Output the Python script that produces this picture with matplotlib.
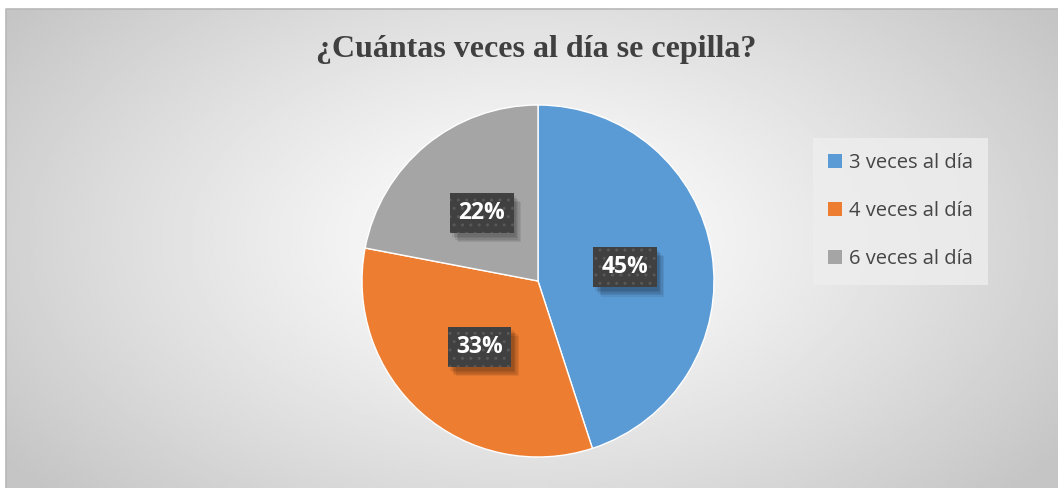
import numpy as np
import matplotlib.pyplot as plt
import matplotlib.patheffects as pe
from matplotlib.lines import Line2D
from matplotlib.patches import Patch

# Datos de la encuesta
categorias = ["3 veces al día", "4 veces al día", "6 veces al día"]
porcentajes = [45, 33, 22]
colores = ["#5B9BD5", "#ED7D31", "#A5A5A5"]
titulo = "¿Cuántas veces al día se cepilla?"

W, H = 1058, 488
fig = plt.figure(figsize=(W / 100, H / 100), dpi=100)
fig.patch.set_facecolor("white")

# Fondo con degradado radial
x0, y0 = 6, 9
bg = fig.add_axes([x0 / W, 0, 1 - x0 / W, 1 - y0 / H])
xs = np.linspace(x0, W, 400)
ys = np.linspace(y0, H, 200)
X, Y = np.meshgrid(xs, ys)
r = np.sqrt(((X - 530) / 560) ** 2 + ((Y - 240) / 330) ** 2)
val = (255 - 58 * np.clip(r / 1.15, 0, 1.0) ** 1.2) / 255
bg.imshow(val, cmap="gray", vmin=0, vmax=1, aspect="auto",
          extent=[0, 1, 0, 1], origin="upper")
bg.set_axis_off()

# Borde superior e izquierdo del área del gráfico
fig.add_artist(Line2D([x0 / W, x0 / W, 1], [0, 1 - y0 / H, 1 - y0 / H],
                      transform=fig.transFigure, color="#b8b8b8",
                      linewidth=1.2))

# Gráfico de pastel
cx, cy, rad = 538, H - 281, 176
ax = fig.add_axes([(cx - rad) / W, (cy - rad) / H, 2 * rad / W, 2 * rad / H])
fuente_pct = dict(fontsize=16.5, fontweight="bold", family="Open Sans")
cuñas, textos, autotextos = ax.pie(
    porcentajes, colors=colores, startangle=90, counterclock=False,
    autopct=lambda p: f"{p:.0f}%", pctdistance=0.5,
    wedgeprops=dict(edgecolor="white", linewidth=1),
    textprops=dict(color="white", **fuente_pct))
ax.set_xlim(-1, 1)
ax.set_ylim(-1, 1)
ax.set_axis_off()

# Etiquetas con caja punteada y sombra difusa (la sombra va en una copia sin trama)
sombra = [pe.withSimplePatchShadow(offset=(1.5 + k, -2.5 - k),
                                   shadow_rgbFace="#000000", alpha=0.08)
          for k in range(5)]
caja = "square,pad=0.36"
for t in autotextos:
    copia = ax.text(*t.get_position(), t.get_text(), ha="center",
                    va="center", color="none", zorder=t.get_zorder() - 0.1,
                    **fuente_pct)
    copia.set_bbox(dict(boxstyle=caja, facecolor="#404040", linewidth=0))
    copia.get_bbox_patch().set_path_effects(sombra)
    t.set_bbox(dict(boxstyle=caja, facecolor="#404040",
                    edgecolor="#585858", linewidth=0, hatch=".."))

# Título
fig.text(536 / W, 1 - 50 / H, titulo, ha="center", va="center",
         fontsize=23, fontweight="bold", family="Liberation Serif",
         color="#404040")

# Leyenda
manijas = [Patch(facecolor=c, edgecolor="none") for c in colores]
leg = fig.legend(manijas, categorias, loc="upper left",
                 bbox_to_anchor=(813 / W, 1 - 138 / H),
                 prop=dict(family="Open Sans", size=14.5),
                 labelcolor="#454545", frameon=True, fancybox=False,
                 handlelength=0.7, handleheight=0.7, handletextpad=0.35,
                 labelspacing=1.4, borderpad=0.75, borderaxespad=0)
leg.get_frame().set_facecolor("#eeeeee")
leg.get_frame().set_edgecolor("none")
leg.get_frame().set_alpha(0.8)

fig.savefig("out.png", dpi=100)
